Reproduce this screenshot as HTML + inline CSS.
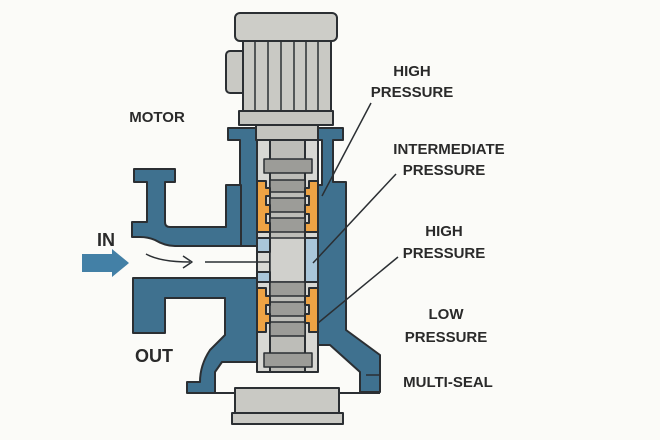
<!DOCTYPE html>
<html><head><style>
body{margin:0;background:#fbfbf8;}
svg{display:block;}
text{font-family:"Liberation Sans",sans-serif;font-size:15px;font-weight:bold;fill:#2a2a2a;text-anchor:middle;}
</style></head><body>
<svg width="660" height="440" viewBox="0 0 660 440" xmlns="http://www.w3.org/2000/svg">
<rect width="660" height="440" fill="#fbfbf8"/>
<g stroke="#2b2f33" stroke-width="2" stroke-linejoin="round">
<!-- motor -->
<rect x="226" y="51" width="20" height="42" rx="4" fill="#c9c9c4"/>
<rect x="243" y="38" width="88" height="74" fill="#c9c9c4"/>
<g stroke-width="1.5">
<line x1="255" y1="40" x2="255" y2="110"/><line x1="268" y1="40" x2="268" y2="110"/>
<line x1="281" y1="40" x2="281" y2="110"/><line x1="294" y1="40" x2="294" y2="110"/>
<line x1="306" y1="40" x2="306" y2="110"/><line x1="318" y1="40" x2="318" y2="110"/>
</g>
<rect x="235" y="13" width="102" height="28" rx="5" fill="#cdcdc8"/>
<rect x="239" y="111" width="94" height="14" fill="#c4c4bf"/>
<!-- top flange + walls -->
<path d="M228 128 H343 V140 H333 V182 H346 V330 L380 355 V392 H360 V372 L330 345 H318 V185 H322 V140 H257 V246 H240 V140 H228 Z" fill="#3f718f"/>
<rect x="256" y="125" width="62" height="15" fill="#c4c4bf"/>
<!-- inlet -->
<path d="M134 169 H175 V182 H165 V222 Q165 227 170 227 H226 V185 H241 V246 H175 Q165 246 155 240 Q148 237 140 237 H132 V222 H147 V182 H134 Z" fill="#3f718f"/>
<!-- outlet -->
<path d="M133 278 H257 V362 H222 L215 372 V393 H187 V382 H200 Q200 365 210 350 L225 335 V298 H165 V333 H133 Z" fill="#3f718f"/>
<!-- base -->
<path d="M188 393 H380" />
<rect x="235" y="388" width="104" height="25" fill="#c9c9c4"/>
<rect x="232" y="413" width="111" height="11" fill="#c9c9c4"/>
<!-- inner column frame -->
<rect x="257" y="140" width="61" height="232" fill="#d8d8d4"/>
<rect x="270" y="140" width="35" height="232" fill="#bdbdb8"/>
<!-- stack -->
<g stroke-width="1.5">
<rect x="264" y="159" width="48" height="14" fill="#9c9c98"/>
<rect x="270" y="180" width="35" height="12" fill="#9c9c98"/>
<rect x="270" y="198" width="35" height="14" fill="#9c9c98"/>
<rect x="270" y="218" width="35" height="14" fill="#9c9c98"/>
<rect x="270" y="238" width="35" height="44" fill="#d0d0cc"/>
<rect x="270" y="282" width="35" height="14" fill="#9c9c98"/>
<rect x="270" y="302" width="35" height="14" fill="#9c9c98"/>
<rect x="270" y="322" width="35" height="14" fill="#9c9c98"/>
<rect x="264" y="353" width="48" height="14" fill="#9c9c98"/>
</g>
<!-- orange seals -->
<path d="M257 181 H266 V188 H270 V196 H266 V205 H270 V214 H266 V223 H270 V232 H257 Z" fill="#eea344"/>
<path d="M318 181 H309 V188 H305 V196 H309 V205 H305 V214 H309 V223 H305 V232 H318 Z" fill="#eea344"/>
<path d="M257 288 H266 V296 H270 V305 H266 V314 H270 V323 H266 V332 H257 Z" fill="#eea344"/>
<path d="M318 288 H309 V296 H305 V305 H309 V314 H305 V323 H309 V332 H318 Z" fill="#eea344"/>
<!-- light blue -->
<path d="M257 238 H270 V252 H257 Z" fill="#a9c6da"/>
<path d="M257 272 H270 V282 H257 Z" fill="#a9c6da"/>
<path d="M305 238 H318 V282 H305 Z" fill="#a9c6da"/>
<!-- leaders -->
<g stroke-width="1.5" fill="none">
<line x1="371" y1="103" x2="322" y2="196"/>
<line x1="396" y1="174" x2="313" y2="263"/>
<line x1="398" y1="257" x2="318" y2="323"/>
<line x1="366" y1="375" x2="380" y2="375"/>
<path d="M146 254 Q160 262 190 262"/>
<path d="M183 256 L192 262 L183 268"/>
<line x1="205" y1="262" x2="270" y2="262"/>
</g>
</g>
<polygon points="82,254 112,254 112,249 129,263 112,277 112,272 82,272" fill="#4380a6"/>
<text x="157" y="122">MOTOR</text>
<text x="412" y="76">HIGH</text><text x="412" y="97">PRESSURE</text>
<text x="449" y="154">INTERMEDIATE</text><text x="444" y="175">PRESSURE</text>
<text x="444" y="236">HIGH</text><text x="444" y="258">PRESSURE</text>
<text x="446" y="319">LOW</text><text x="446" y="342">PRESSURE</text>
<text x="448" y="387">MULTI-SEAL</text>
<text x="106" y="246" style="font-size:18px">IN</text>
<text x="154" y="362" style="font-size:18px">OUT</text>
</svg>
</body></html>
